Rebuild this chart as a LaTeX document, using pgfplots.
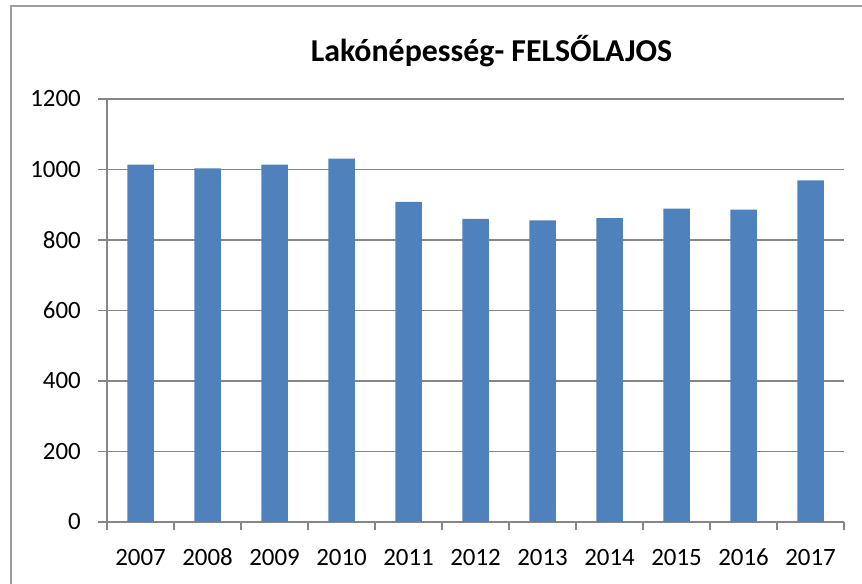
\documentclass[border=0pt]{standalone}
\usepackage{fontspec}
\setmainfont{Carlito}
\usepackage{pgfplots}
\pgfplotsset{compat=1.18}
\definecolor{barblue}{HTML}{4F81BD}
\definecolor{gridgray}{HTML}{868686}
\begin{document}
\begin{tikzpicture}
\useasboundingbox (0,0) rectangle (862bp,584bp);
\draw[gridgray!80, line width=1.5bp] (11bp,0) -- (11bp,578bp) -- (862bp,578bp);
\node[anchor=base, font=\fontsize{32}{38}\selectfont\bfseries] at (491.5bp,522bp) {Lakónépesség- FELSŐLAJOS};
\begin{axis}[
  at={(107bp,62bp)}, anchor=south west,
  scale only axis, width=737bp, height=423bp,
  xmin=-0.5, xmax=10.5, ymin=0, ymax=1200,
  ytick={0,200,...,1200},
  xtick={0,...,10},
  xticklabels={2007,2008,2009,2010,2011,2012,2013,2014,2015,2016,2017},
  minor xtick={-0.5,0.5,...,10.5},
  major x tick style={draw=none},
  tick align=outside,
  major tick length=9bp, minor tick length=8bp,
  tick style={gridgray, line width=1.3bp},
  axis x line*=bottom, axis y line*=left,
  axis line style={gridgray, line width=1.5bp, -},
  ymajorgrids, grid style={gridgray, line width=1.3bp},
  /pgf/number format/assume math mode=true,
  /pgf/number format/1000 sep={},
  ticklabel style={font=\fontsize{25}{30}\selectfont, inner sep=0pt},
  yticklabel style={xshift=-17bp},
  xticklabel style={anchor=north, text height=16bp, text depth=4bp, yshift=-18bp},
]
\addplot[ybar, bar width=26.5bp, bar shift=0pt, fill=barblue, draw=none] coordinates {
(0,1014) (1,1003) (2,1014) (3,1031) (4,908) (5,860) (6,856) (7,862) (8,889) (9,886) (10,969)
};
\end{axis}
\end{tikzpicture}
\end{document}
